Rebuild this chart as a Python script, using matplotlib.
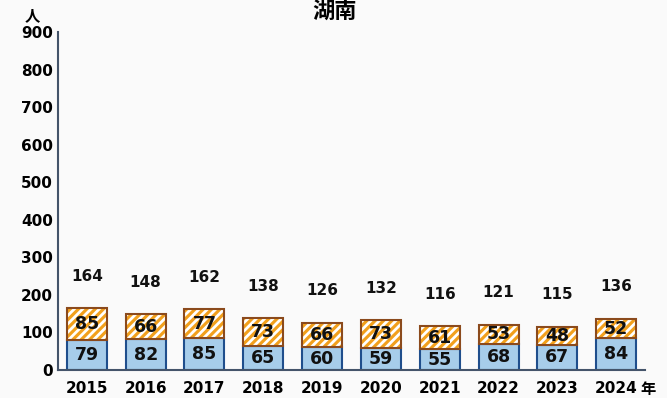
import matplotlib.pyplot as plt
import numpy as np

plt.rcParams['font.family'] = ['DejaVu Sans', 'Noto Sans CJK JP']
plt.rcParams['hatch.linewidth'] = 2.0

years = ['2015', '2016', '2017', '2018', '2019', '2020', '2021', '2022', '2023', '2024']
lower = [79, 82, 85, 65, 60, 59, 55, 68, 67, 84]
upper = [85, 66, 77, 73, 66, 73, 61, 53, 48, 52]
totals = [164, 148, 162, 138, 126, 132, 116, 121, 115, 136]

x = np.arange(len(years))
w = 0.68
bg = '#fafafa'

fig = plt.figure(figsize=(6.67, 3.98), dpi=100, facecolor=bg)
ax = fig.add_axes([0.087, 0.0704, 0.88, 0.8492], facecolor=bg)

ax.bar(x, lower, w, color='#a7cdea', edgecolor='#1f4e8c', linewidth=1.5)
ax.bar(x, upper, w, bottom=lower, color='#f2a01c', edgecolor='white', hatch='////', linewidth=0)
ax.bar(x, upper, w, bottom=lower, fill=False, edgecolor='#8b4a1c', linewidth=1.5)

for i in range(len(years)):
    ax.text(x[i], lower[i] / 2, str(lower[i]), ha='center', va='center', fontsize=12.5, fontweight='bold', color='#111111')
    ax.text(x[i], lower[i] + upper[i] / 2, str(upper[i]), ha='center', va='center', fontsize=12.5, fontweight='bold', color='#111111')
    ax.text(x[i], totals[i] + 85, str(totals[i]), ha='center', va='center', fontsize=11, fontweight='bold', color='#111111')

ax.set_xlim(-0.49, 9.49)
ax.set_ylim(0, 900)
ax.set_yticks(range(0, 901, 100))
ax.set_xticks(x)
ax.set_xticklabels(years)
ax.tick_params(length=0, labelsize=11)
ax.tick_params(axis='x', pad=8)
for lab in ax.get_xticklabels() + ax.get_yticklabels():
    lab.set_fontweight('bold')

for s in ['top', 'right']:
    ax.spines[s].set_visible(False)
ax.spines['left'].set_color('#44546a')
ax.spines['bottom'].set_color('#44546a')
ax.spines['left'].set_linewidth(1.5)
ax.spines['bottom'].set_linewidth(1.5)

fig.text(0.502, 0.997, '湖南', ha='center', va='top', fontsize=16, fontweight='bold', family=['Noto Sans CJK JP'])
fig.text(0.048, 0.962, '人', ha='center', va='center', fontsize=11, fontweight='bold', family=['Noto Sans CJK JP'])
fig.text(0.971, 0.022, '年', ha='center', va='center', fontsize=11, fontweight='bold', family=['Noto Sans CJK JP'])

fig.savefig('out.png', dpi=100, facecolor=bg)
